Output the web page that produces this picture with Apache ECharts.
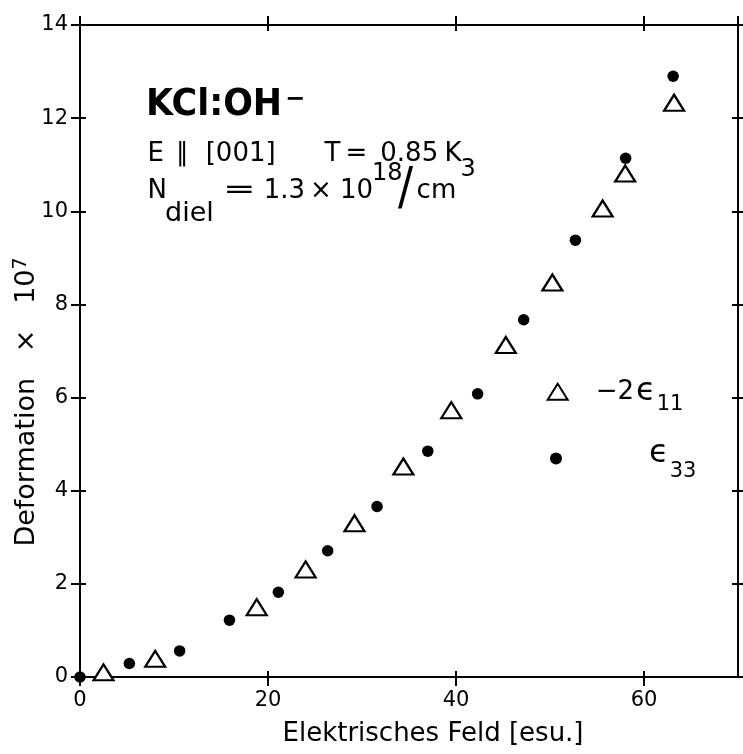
<!DOCTYPE html>
<html><head><meta charset="utf-8">
<script src="https://cdn.jsdelivr.net/npm/echarts@6/dist/echarts.min.js"></script>
<style>html,body{margin:0;padding:0;background:#fff}#c{width:743px;height:754px}</style>
</head><body><div id="c"></div>
<script>
// ---- data ----
const fieldTriangles = [2.5, 8.0, 18.8, 24.0, 29.2, 34.4, 39.5, 45.3, 50.25, 55.6, 58.0, 63.2];
const minus2Eps11    = [0.10, 0.39, 1.50, 2.31, 3.30, 4.52, 5.73, 7.13, 8.47, 10.06, 10.81, 12.33];
const fieldDots      = [0, 5.25, 10.6, 15.9, 21.1, 26.35, 31.6, 37.0, 42.3, 47.2, 52.7, 58.05, 63.1];
const eps33          = [0, 0.29, 0.56, 1.22, 1.82, 2.71, 3.66, 4.85, 6.08, 7.67, 9.38, 11.14, 12.9];
const xTickLabels = ['0', '20', '40', '60'];
const yTickLabels = ['0', '2', '4', '6', '8', '10', '12', '14'];
const seriesNames = ['−2ϵ11', 'ϵ33'];

const FONT = '"DejaVu Sans", sans-serif';
const INK = '#000';

function xAxisDef(pos, inside, main) {
  return {
    type: 'value', position: pos, min: 0, max: 70, interval: 20,
    axisLine: { show: !inside, onZero: false, lineStyle: { color: INK, width: 2 } },
    axisTick: { show: true, inside: inside, length: inside ? 6 : 9, lineStyle: { color: INK, width: 2 } },
    axisLabel: main ? {
      show: true, margin: 13, showMaxLabel: false, color: INK, fontFamily: FONT, fontSize: 21, lineHeight: 22,
      formatter: v => xTickLabels.includes(String(v)) ? String(v) : ''
    } : { show: false },
    splitLine: { show: false },
    name: main ? 'Elektrisches Feld [esu.]' : '',
    nameLocation: 'middle', nameGap: 42, nameMoveOverlap: false,
    nameTextStyle: { color: INK, fontFamily: FONT, fontSize: 26, lineHeight: 30, padding: [0, 0, 0, 48] }
  };
}
function yAxisDef(pos, inside, main) {
  return {
    type: 'value', position: pos, min: 0, max: 14, interval: 2,
    axisLine: { show: !inside, onZero: false, lineStyle: { color: INK, width: 2 } },
    axisTick: { show: true, inside: inside, length: inside ? 6 : 9, lineStyle: { color: INK, width: 2 } },
    axisLabel: main ? {
      show: true, margin: 12, color: INK, fontFamily: FONT, fontSize: 21,
      formatter: v => yTickLabels.includes(String(v)) ? String(v) : ''
    } : { show: false },
    splitLine: { show: false },
    name: main ? 'Deformation   ×   10{sup|7}' : '',
    nameLocation: 'middle', nameGap: 38, nameMoveOverlap: false,
    nameTextStyle: {
      color: INK, fontFamily: FONT, fontSize: 27, lineHeight: 30, padding: [0, 102, 0, 0],
      rich: { sup: { color: INK, fontFamily: FONT, fontSize: 19, lineHeight: 30, verticalAlign: 'top' } }
    }
  };
}

function txt(text, x, y, size, weight, sx, sy) {
  return {
    type: 'text', x: x, y: y, silent: true,
    scaleX: sx || 1, scaleY: sy || 1,
    style: {
      text: text, fill: INK, fontFamily: FONT, fontSize: size, fontWeight: weight || 'normal',
      align: 'left', verticalAlign: 'middle', textAlign: 'left', textVerticalAlign: 'middle'
    }
  };
}

const chart = echarts.init(document.getElementById('c'), null, { renderer: 'canvas' });
chart.setOption({
  animation: false,
  backgroundColor: '#fff',
  grid: { left: 80, right: 5, top: 25, bottom: 77, containLabel: false, outerBoundsMode: 'none' },
  xAxis: [xAxisDef('bottom', false, true), xAxisDef('bottom', true, false), xAxisDef('top', false, false), xAxisDef('top', true, false)],
  yAxis: [yAxisDef('left', false, true), yAxisDef('left', true, false), yAxisDef('right', false, false), yAxisDef('right', true, false)],
  legend: [
    {
      data: [{ name: seriesNames[0], icon: 'triangle', itemStyle: { color: '#fff', borderColor: INK, borderWidth: 2, opacity: 1 } }],
      left: 546.7, top: 375.7, orient: 'vertical', padding: 0, itemWidth: 20, itemHeight: 16, symbolKeepAspect: false,
      formatter: () => '{m|−2}{e|ϵ}{s|11}',
      textStyle: {
        color: INK, fontFamily: FONT,
        rich: {
          m: { color: INK, fontFamily: FONT, fontSize: 26, height: 26, verticalAlign: 'top', padding: [12, 0, 10, 23] },
          e: { color: INK, fontFamily: FONT, fontSize: 32, height: 32, verticalAlign: 'top', padding: [8, 0, 0, 2] },
          s: { color: INK, fontFamily: FONT, fontSize: 21, height: 21, verticalAlign: 'top', padding: [26.5, 0, 0, 1] }
        }
      }
    },
    {
      data: [{ name: seriesNames[1], icon: 'circle', itemStyle: { color: INK, opacity: 1 } }],
      left: 550, top: 438, orient: 'vertical', padding: 0, itemWidth: 12, itemHeight: 12,
      formatter: () => '{m|ϵ}{s|33}',
      textStyle: {
        color: INK, fontFamily: FONT,
        rich: {
          m: { color: INK, fontFamily: FONT, fontSize: 32, height: 32, verticalAlign: 'top', padding: [3.5, 0, 12.5, 82] },
          s: { color: INK, fontFamily: FONT, fontSize: 21, height: 21, verticalAlign: 'top', padding: [27, 0, 0, 1] }
        }
      }
    }
  ],
  graphic: [
    txt('KCl:OH', 146, 104.9, 38, 'bold', 0.92, 1),
    txt('−', 285, 100, 24, 'bold'),
    txt('E', 147.4, 154.3, 26),
    txt('∥', 176, 154.3, 26),
    txt('[001]', 205.7, 154.3, 26),
    txt('T', 324.5, 154.3, 26),
    txt('=', 345.4, 154.3, 26),
    txt('0.85', 380.3, 154.3, 26),
    txt('K', 444.4, 154.3, 26),
    txt('N', 147.4, 191, 26),
    txt('diel', 165, 214, 27),
    txt('=', 223, 191, 26, 'normal', 1.5, 1),
    txt('1.3', 263.8, 191, 26),
    txt('×', 310, 191, 26),
    txt('10', 340, 191, 26),
    txt('18', 372, 173.4, 24),
    txt('/', 398, 191, 28, 'normal', 1.6, 1.85),
    txt('cm', 416.6, 191, 26),
    txt('3', 460.5, 170, 24)
  ],
  series: [
    {
      type: 'scatter', name: seriesNames[0], xAxisIndex: 0, yAxisIndex: 0, clip: false,
      symbol: 'triangle', symbolSize: [20, 16],
      itemStyle: { color: '#fff', borderColor: INK, borderWidth: 2.2, opacity: 1 },
      emphasis: { disabled: true },
      data: fieldTriangles.map((x, i) => [x, minus2Eps11[i]])
    },
    {
      type: 'scatter', name: seriesNames[1], xAxisIndex: 0, yAxisIndex: 0, clip: false,
      symbol: 'circle', symbolSize: 11.5,
      itemStyle: { color: INK, opacity: 1 },
      emphasis: { disabled: true },
      data: fieldDots.map((x, i) => [x, eps33[i]])
    }
  ]
});
</script>
</body></html>
